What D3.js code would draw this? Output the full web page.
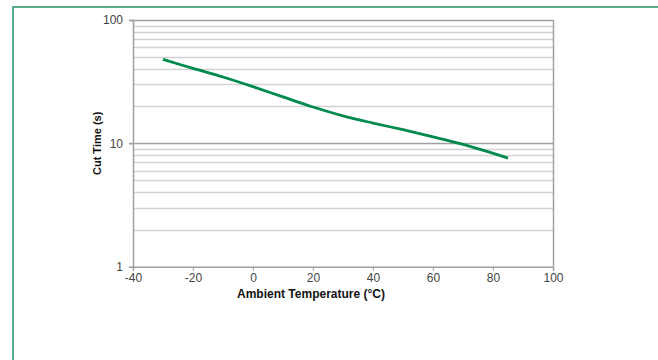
<!DOCTYPE html>
<html>
<head>
<meta charset="utf-8">
<script src="https://cdn.jsdelivr.net/npm/d3@7"></script>
<style>
  body { margin: 0; background: #fff; }
  svg { font-family: "Liberation Sans", Arial, sans-serif; }
</style>
</head>
<body>
<div id="chart"></div>
<script>
// data
var temps = [-30, -20, -10, 0, 10, 20, 30, 40, 50, 60, 70, 85];
var cutTimes = [48, 40.5, 34.5, 28.8, 23.8, 19.7, 16.7, 14.6, 12.9, 11.3, 9.8, 7.6];
var xTicks = [-40, -20, 0, 20, 40, 60, 80, 100];
var yTicks = [1, 10, 100];

var width = 658, height = 360;
var plotLeft = 133, plotRight = 553, plotTop = 20, plotBottom = 266.7;

var svg = d3.select("#chart")
  .append("svg")
  .attr("width", width)
  .attr("height", height);

// green frame (only top and left visible)
svg.append("line").attr("x1", 12).attr("x2", 660).attr("y1", 7).attr("y2", 7)
  .attr("stroke", "#58ad88").attr("stroke-width", 2);
svg.append("line").attr("x1", 13).attr("x2", 13).attr("y1", 6).attr("y2", 362)
  .attr("stroke", "#58ad88").attr("stroke-width", 2);

var x = d3.scaleLinear().domain([-40, 100]).range([plotLeft, plotRight]);
var y = d3.scaleLog().domain([1, 100]).range([plotBottom, plotTop]);

// minor gridlines
var minors = [];
for (var d = 1; d < 100; d *= 10) {
  for (var k = 2; k <= 9; k++) minors.push(d * k);
}
svg.append("g").selectAll("line").data(minors).enter().append("line")
  .attr("x1", plotLeft).attr("x2", plotRight)
  .attr("y1", function(v) { return Math.round(y(v)) + 0.5; })
  .attr("y2", function(v) { return Math.round(y(v)) + 0.5; })
  .attr("stroke", "#d2d2d2").attr("stroke-width", 1.3);

// major gridlines
svg.append("g").selectAll("line").data([10, 100]).enter().append("line")
  .attr("x1", plotLeft - 4).attr("x2", plotRight)
  .attr("y1", function(v) { return Math.round(y(v)) + 0.5; })
  .attr("y2", function(v) { return Math.round(y(v)) + 0.5; })
  .attr("stroke", "#a0a0a0").attr("stroke-width", 1.3);

// y axis
var yAxis = svg.append("g")
  .attr("transform", "translate(" + plotLeft + ",0)")
  .call(d3.axisLeft(y).tickValues(yTicks).tickFormat(d3.format("d")).tickSize(4).tickPadding(6));
yAxis.select(".domain").attr("stroke", "#a0a0a0").attr("stroke-width", 1.5);
yAxis.selectAll(".tick line").attr("stroke", "#a0a0a0");
yAxis.selectAll("text").attr("font-size", 12).attr("fill", "#444")
  .attr("font-family", "Liberation Sans, Arial, sans-serif");

// right border of plot
svg.append("line").attr("x1", plotRight + 0.5).attr("x2", plotRight + 0.5)
  .attr("y1", plotTop).attr("y2", plotBottom)
  .attr("stroke", "#a0a0a0").attr("stroke-width", 1.5);

// x axis
var xAxis = svg.append("g")
  .attr("transform", "translate(0," + plotBottom + ")")
  .call(d3.axisBottom(x).tickValues(xTicks).tickSize(4).tickPadding(3)
    .tickFormat(function(v) { return String(v); }));
xAxis.select(".domain").attr("stroke", "#a0a0a0").attr("stroke-width", 1.5);
xAxis.selectAll(".tick line").attr("stroke", "#a0a0a0");
xAxis.selectAll("text").attr("font-size", 12).attr("fill", "#444")
  .attr("font-family", "Liberation Sans, Arial, sans-serif");

// curve
var pts = temps.map(function(t, i) { return [t, cutTimes[i]]; });
var line = d3.line()
  .x(function(d) { return x(d[0]); })
  .y(function(d) { return y(d[1]); })
  .curve(d3.curveCatmullRom);
svg.append("path")
  .datum(pts)
  .attr("d", line)
  .attr("fill", "none")
  .attr("stroke", "#008a4c")
  .attr("stroke-width", 2.8)
  .attr("stroke-linecap", "butt");

// axis titles
svg.append("text")
  .attr("x", 311).attr("y", 298)
  .attr("text-anchor", "middle")
  .attr("font-size", 12).attr("font-weight", "bold").attr("fill", "#111")
  .text("Ambient Temperature (°C)");

svg.append("text")
  .attr("transform", "translate(101," + ((plotTop + plotBottom) / 2) + ") rotate(-90)")
  .attr("text-anchor", "middle")
  .attr("font-size", 11).attr("font-weight", "bold").attr("fill", "#111")
  .text("Cut Time (s)");
</script>
</body>
</html>
